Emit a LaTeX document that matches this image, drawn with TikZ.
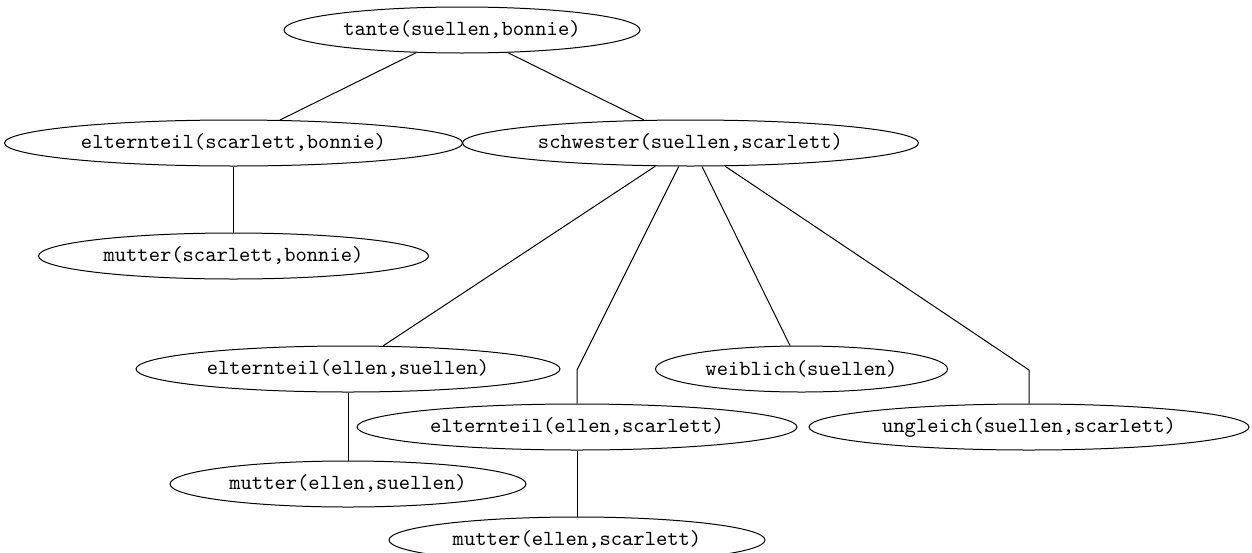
\documentclass[tikz,border=0pt]{standalone}
\usetikzlibrary{shapes.geometric}
\begin{document}
\begin{tikzpicture}[x=0.5pt,y=-0.5pt,
  term/.style={ellipse,draw,line width=0.5pt,inner xsep=0pt,inner ysep=0pt,minimum height=23pt,
    font=\fontsize{10.76}{12}\selectfont\ttfamily},
  edge/.style={line width=0.5pt}]
\useasboundingbox (0,0) rectangle (1252,552);
\clip (0,0) rectangle (1252,552);
\node[term,minimum width=178pt] (tante) at (462,30) {tante(suellen,bonnie)};
\node[term,minimum width=229pt] (esb) at (233.5,143) {elternteil(scarlett,bonnie)};
\node[term,minimum width=228pt] (schw) at (690.5,143) {schwester(suellen,scarlett)};
\node[term,minimum width=195pt] (msb) at (233.5,256) {mutter(scarlett,bonnie)};
\node[term,minimum width=212pt] (ees) at (348,369) {elternteil(ellen,suellen)};
\node[term,minimum width=146pt] (weib) at (801.5,369) {weiblich(suellen)};
\node[term,minimum width=220pt] (eesc) at (577,427) {elternteil(ellen,scarlett)};
\node[term,minimum width=220pt] (ungl) at (1029,427) {ungleich(suellen,scarlett)};
\node[term,minimum width=178pt] (mes) at (348,484) {mutter(ellen,suellen)};
\node[term,minimum width=188pt] (mesc) at (577,540) {mutter(ellen,scarlett)};
\coordinate (b1) at (577,370);
\coordinate (b2) at (1029,370);
\draw[edge] (tante) -- (esb);
\draw[edge] (tante) -- (schw);
\draw[edge] (esb) -- (msb);
\draw[edge] (schw) -- (ees);
\draw[edge] (schw) -- (b1) -- (eesc);
\draw[edge] (schw) -- (weib);
\draw[edge] (schw) -- (b2) -- (ungl);
\draw[edge] (ees) -- (mes);
\draw[edge] (eesc) -- (mesc);
\end{tikzpicture}
\end{document}
